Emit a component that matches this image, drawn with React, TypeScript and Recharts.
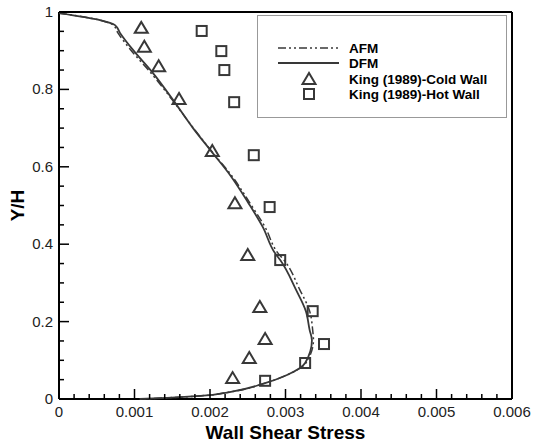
import { ScatterChart, Scatter, XAxis, YAxis, ReferenceLine } from 'recharts'

// wall shear stress vs Y/H
const dfmProfile = [
  { x: 0, y: 0.997 },
  { x: 0.000543, y: 0.979 },
  { x: 0.000742, y: 0.966 },
  { x: 0.000808, y: 0.946 },
  { x: 0.00098, y: 0.902 },
  { x: 0.001245, y: 0.842 },
  { x: 0.00151, y: 0.773 },
  { x: 0.001775, y: 0.7 },
  { x: 0.002026, y: 0.638 },
  { x: 0.002265, y: 0.579 },
  { x: 0.00251, y: 0.506 },
  { x: 0.0027, y: 0.444 },
  { x: 0.00286, y: 0.377 },
  { x: 0.00293, y: 0.359 },
  { x: 0.00314, y: 0.282 },
  { x: 0.00327, y: 0.227 },
  { x: 0.00332, y: 0.178 },
  { x: 0.00335, y: 0.152 },
  { x: 0.00326, y: 0.093 },
  { x: 0.00302, y: 0.062 },
  { x: 0.00273, y: 0.041 },
  { x: 0.00226, y: 0.018 },
  { x: 0.00187, y: 0.008 },
  { x: 0.00143, y: 0.003 },
  { x: 0.00107, y: 0 },
]

const afmProfile = [
  { x: 0, y: 0.997 },
  { x: 0.00054, y: 0.979 },
  { x: 0.00072, y: 0.966 },
  { x: 0.00078, y: 0.946 },
  { x: 0.00095, y: 0.902 },
  { x: 0.00122, y: 0.842 },
  { x: 0.0015, y: 0.773 },
  { x: 0.00178, y: 0.7 },
  { x: 0.00203, y: 0.638 },
  { x: 0.00228, y: 0.579 },
  { x: 0.00253, y: 0.506 },
  { x: 0.00273, y: 0.444 },
  { x: 0.0029, y: 0.377 },
  { x: 0.00298, y: 0.359 },
  { x: 0.00319, y: 0.282 },
  { x: 0.00332, y: 0.227 },
  { x: 0.00336, y: 0.178 },
  { x: 0.00337, y: 0.152 },
  { x: 0.00327, y: 0.093 },
  { x: 0.00302, y: 0.062 },
  { x: 0.00273, y: 0.041 },
  { x: 0.00226, y: 0.018 },
  { x: 0.00187, y: 0.008 },
  { x: 0.00143, y: 0.003 },
  { x: 0.00107, y: 0 },
]

const kingColdWall = [
  { x: 0.00109, y: 0.959 },
  { x: 0.00113, y: 0.91 },
  { x: 0.00132, y: 0.86 },
  { x: 0.00159, y: 0.775 },
  { x: 0.00203, y: 0.641 },
  { x: 0.00233, y: 0.506 },
  { x: 0.0025, y: 0.372 },
  { x: 0.00266, y: 0.238 },
  { x: 0.00273, y: 0.155 },
  { x: 0.00252, y: 0.106 },
  { x: 0.0023, y: 0.054 },
]

const kingHotWall = [
  { x: 0.00189, y: 0.951 },
  { x: 0.00215, y: 0.899 },
  { x: 0.00219, y: 0.85 },
  { x: 0.00232, y: 0.767 },
  { x: 0.00258, y: 0.63 },
  { x: 0.00279, y: 0.496 },
  { x: 0.00293, y: 0.359 },
  { x: 0.00336, y: 0.227 },
  { x: 0.00351, y: 0.142 },
  { x: 0.00326, y: 0.093 },
  { x: 0.00273, y: 0.047 },
]

const xMajorTicks = [0, 0.001, 0.002, 0.003, 0.004, 0.005, 0.006]
const xTickLabels = ['0', '0.001', '0.002', '0.003', '0.004', '0.005', '0.006']
const yMajorTicks = [0, 0.2, 0.4, 0.6, 0.8, 1]
const yTickLabels = ['0', '0.2', '0.4', '0.6', '0.8', '1']

// minor ticks: 5 per major step on x, 4 per step on y
const subdivide = (majors: number[], n: number) => {
  const out: number[] = []
  for (let i = 0; i < majors.length - 1; i++) {
    for (let k = 0; k < n; k++) out.push(majors[i] + ((majors[i + 1] - majors[i]) * k) / n)
  }
  out.push(majors[majors.length - 1])
  return out
}
const xTicks = subdivide(xMajorTicks, 5)
const yTicks = subdivide(yMajorTicks, 4)

const INK = '#383838'
const FONT = '"Liberation Sans", Arial, sans-serif'

function majorIndex(v: number, majors: number[]) {
  return majors.findIndex((m) => Math.abs(m - v) < 1e-9)
}

function XTick(props: any) {
  const { x, y, payload } = props
  const idx = majorIndex(payload.value, xMajorTicks)
  const len = idx >= 0 ? 10 : 5
  return (
    <g>
      <line x1={x} x2={x} y1={y} y2={y - len} stroke="#000" strokeWidth={1.5} />
      {idx >= 0 && (
        <text x={x} y={y + 18} textAnchor="middle" fontSize={15} fill="#222" fontFamily={FONT}>
          {xTickLabels[idx]}
        </text>
      )}
    </g>
  )
}

function YTick(props: any) {
  const { x, y, payload } = props
  const idx = majorIndex(payload.value, yMajorTicks)
  const len = idx >= 0 ? 10 : 5
  return (
    <g>
      <line x1={x} x2={x + len} y1={y} y2={y} stroke="#000" strokeWidth={1.5} />
      {idx >= 0 && (
        <text x={x - 6} y={y + 5} textAnchor="end" fontSize={15} fill="#222" fontFamily={FONT}>
          {yTickLabels[idx]}
        </text>
      )}
    </g>
  )
}

function Triangle(props: any) {
  const { cx, cy } = props
  return (
    <polygon
      points={`${cx},${cy - 6} ${cx - 6.5},${cy + 5} ${cx + 6.5},${cy + 5}`}
      fill="none"
      stroke={INK}
      strokeWidth={2}
    />
  )
}

function Square(props: any) {
  const { cx, cy } = props
  return <rect x={cx - 5} y={cy - 5} width={10} height={10} fill="none" stroke={INK} strokeWidth={2} />
}

const noDot = () => <g />

export default function App() {
  return (
    <div style={{ position: 'absolute', left: 0, top: 0, width: 534, height: 446, background: '#fff' }}>
      <ScatterChart width={534} height={446} margin={{ top: 12, right: 22, bottom: 0, left: 0 }}>
        <XAxis
          type="number"
          dataKey="x"
          domain={[0, 0.006]}
          ticks={xTicks}
          interval={0}
          height={47}
          tickSize={0}
          tickMargin={0}
          tickLine={false}
          tick={<XTick />}
          axisLine={{ stroke: '#000', strokeWidth: 2 }}
          label={{
            value: 'Wall Shear Stress',
            position: 'insideBottom',
            offset: 7,
            style: { fontSize: 19, fontWeight: 'bold', fill: '#000', fontFamily: FONT },
          }}
        />
        <YAxis
          type="number"
          dataKey="y"
          domain={[0, 1]}
          ticks={yTicks}
          interval={0}
          width={59}
          tickSize={0}
          tickMargin={0}
          tickLine={false}
          tick={<YTick />}
          axisLine={{ stroke: '#000', strokeWidth: 2 }}
          label={{
            value: 'Y/H',
            angle: -90,
            position: 'insideLeft',
            offset: 17,
            style: { fontSize: 19, fontWeight: 'bold', fill: '#000', fontFamily: FONT, textAnchor: 'middle' },
          }}
        />
        <ReferenceLine y={1} stroke="#000" strokeWidth={2} />
        <ReferenceLine x={0.006} stroke="#000" strokeWidth={2} />
        <Scatter
          name="AFM"
          data={afmProfile}
          line={{ stroke: INK, strokeWidth: 1.5, strokeDasharray: '8 3 2 3 2 3' }}
          lineJointType="monotoneY"
          shape={noDot}
          isAnimationActive={false}
        />
        <Scatter
          name="DFM"
          data={dfmProfile}
          line={{ stroke: INK, strokeWidth: 1.8 }}
          lineJointType="monotoneY"
          shape={noDot}
          isAnimationActive={false}
        />
        <Scatter name="King (1989)-Cold Wall" data={kingColdWall} shape={Triangle} isAnimationActive={false} />
        <Scatter name="King (1989)-Hot Wall" data={kingHotWall} shape={Square} isAnimationActive={false} />
      </ScatterChart>
      <div
        style={{
          position: 'absolute',
          left: 257,
          top: 15,
          width: 248,
          height: 101,
          border: '1.5px solid #999',
          background: '#fff',
          fontFamily: FONT,
          fontWeight: 'bold',
          fontSize: 13.5,
          color: '#000',
        }}
      >
        <svg width={248} height={101} style={{ position: 'absolute', left: 0, top: 0 }}>
          <line x1={20} x2={81} y1={32} y2={32} stroke={INK} strokeWidth={1.5} strokeDasharray="8 3 2 3 2 3" />
          <line x1={20} x2={81} y1={47} y2={47} stroke={INK} strokeWidth={1.8} />
          <Triangle cx={51} cy={63} />
          <Square cx={51} cy={78} />
          <text x={91} y={37} fontSize={13.5} fontWeight="bold" fontFamily={FONT}>AFM</text>
          <text x={91} y={52} fontSize={13.5} fontWeight="bold" fontFamily={FONT}>DFM</text>
          <text x={91} y={68} fontSize={13.5} fontWeight="bold" fontFamily={FONT}>King (1989)-Cold Wall</text>
          <text x={91} y={83} fontSize={13.5} fontWeight="bold" fontFamily={FONT}>King (1989)-Hot Wall</text>
        </svg>
      </div>
    </div>
  )
}
